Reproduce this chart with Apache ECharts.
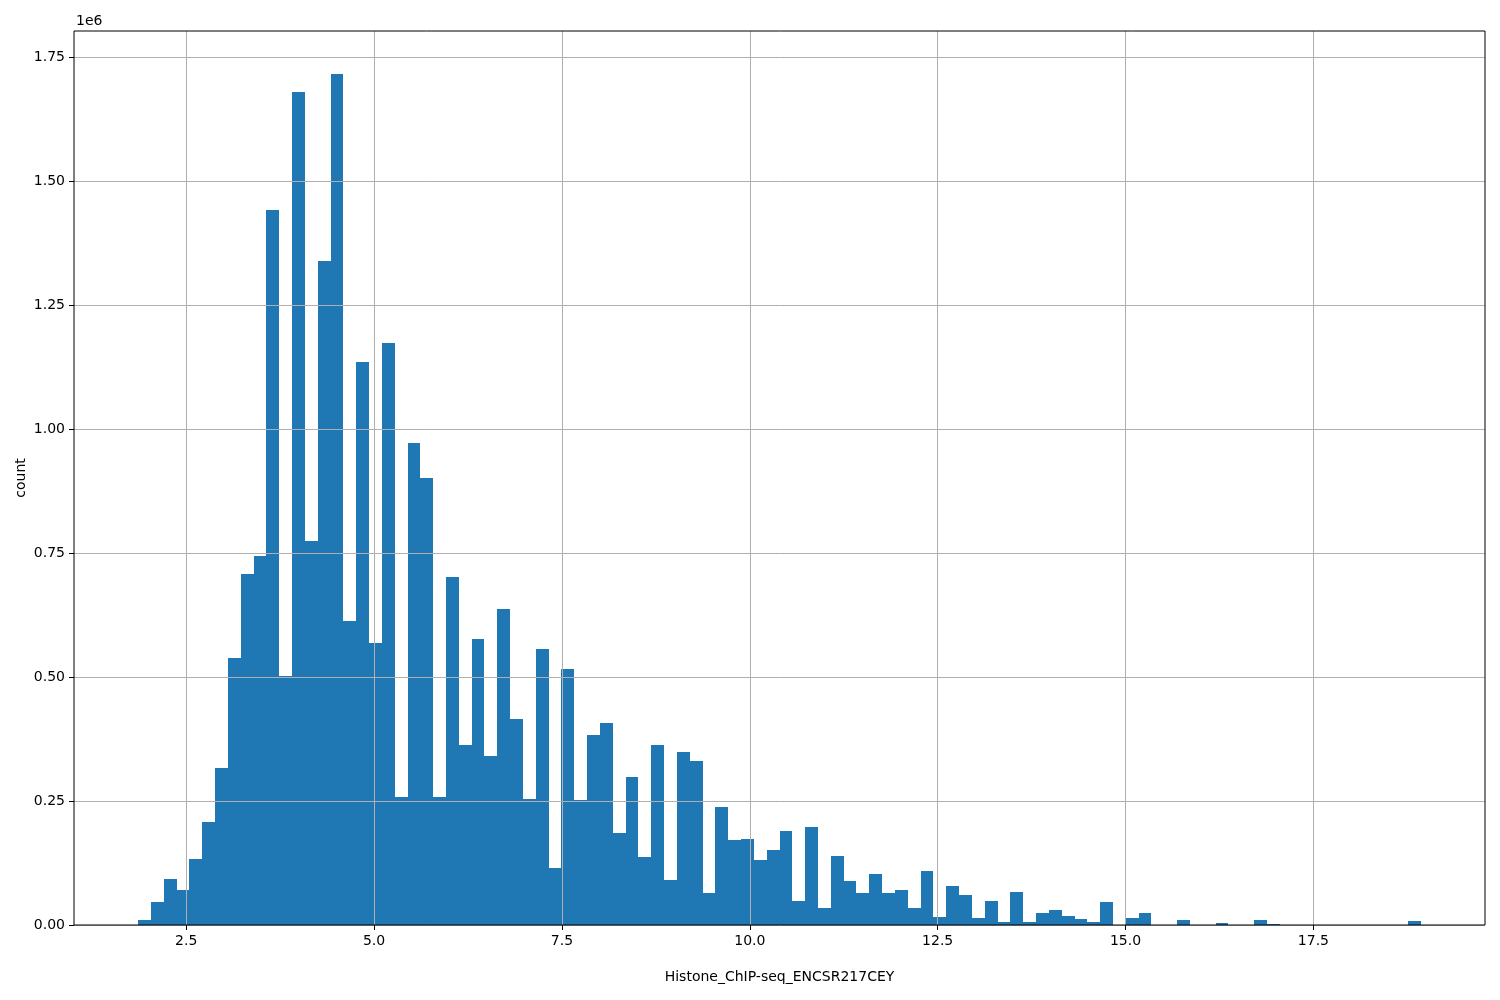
<!DOCTYPE html>
<html>
<head>
<meta charset="utf-8">
<script src="https://cdn.jsdelivr.net/npm/echarts@6/dist/echarts.min.js"></script>
<style>html,body{margin:0;padding:0;background:#fff;}#c{width:1500px;height:1000px;}</style>
</head>
<body>
<div id="c"></div>
<script>
// Histogram: 100 equal bins starting at binStart with width binWidth
const binStart = 1.86;
const binWidth = 0.1707;
const counts = [
  10000, 46000, 93000, 70000, 133000, 207000, 316000, 539000, 709000, 745000,
  1443000, 502000, 1681000, 774000, 1339000, 1718000, 613000, 1136000, 569000, 1175000,
  258000, 972000, 902000, 258000, 702000, 363000, 577000, 341000, 638000, 416000,
  254000, 557000, 115000, 516000, 253000, 383000, 407000, 185000, 298000, 138000,
  363000, 91000, 349000, 331000, 65000, 238000, 171000, 173000, 131000, 151000,
  190000, 48000, 198000, 35000, 139000, 89000, 65000, 103000, 65000, 71000,
  35000, 109000, 16000, 79000, 61000, 14000, 48000, 6000, 66000, 6000,
  24000, 30000, 18000, 12000, 6000, 46000, 0, 14000, 24000, 0,
  0, 10000, 0, 0, 4000, 0, 0, 10000, 2000, 0,
  0, 0, 0, 0, 0, 0, 0, 0, 0, 8000
];
const xTicks = [2.5, 5.0, 7.5, 10.0, 12.5, 15.0, 17.5];
const yTicks = [0, 250000, 500000, 750000, 1000000, 1250000, 1500000, 1750000];
const xLabel = 'Histone_ChIP-seq_ENCSR217CEY';
const yLabel = 'count';
const yScaleText = '1e6';

const binData = counts.map((c, i) => [binStart + i * binWidth, binStart + (i + 1) * binWidth, c]);
const xLo = binStart, xHi = binStart + counts.length * binWidth;
const xPad = (xHi - xLo) * 0.05;
const yMax = Math.max(...counts) * 1.05;

const FONT = 'DejaVu Sans';
const chart = echarts.init(document.getElementById('c'), null, {renderer: 'canvas'});
chart.setOption({
  animation: false,
  backgroundColor: '#ffffff',
  textStyle: {fontFamily: FONT},
  grid: {left: 74, top: 31, right: 15, bottom: 75, show: true, borderColor: '#000', borderWidth: 1, backgroundColor: 'transparent', z: 5},
  xAxis: {
    type: 'value', min: xLo - xPad, max: xHi + xPad, z: 4,
    axisLine: {show: false},
    axisTick: {show: true, inside: false, length: 5, lineStyle: {color: '#000', width: 1}, customValues: xTicks},
    axisLabel: {customValues: xTicks, margin: 9, color: '#000', fontSize: 14, fontFamily: FONT, formatter: v => v.toFixed(1)},
    splitLine: {show: true, lineStyle: {color: '#b0b0b0', width: 1}},
    name: xLabel, nameLocation: 'middle', nameGap: 45, nameMoveOverlap: false,
    nameTextStyle: {color: '#000', fontSize: 14, fontFamily: FONT}
  },
  yAxis: {
    type: 'value', min: 0, max: yMax, z: 4,
    axisLine: {show: false},
    axisTick: {show: true, inside: false, length: 5, lineStyle: {color: '#000', width: 1}, customValues: yTicks},
    axisLabel: {customValues: yTicks, margin: 9, color: '#000', fontSize: 14, fontFamily: FONT, formatter: v => (v / 1e6).toFixed(2)},
    splitLine: {show: true, lineStyle: {color: '#b0b0b0', width: 1}},
    name: yLabel, nameLocation: 'middle', nameGap: 53, nameMoveOverlap: false,
    nameTextStyle: {color: '#000', fontSize: 14, fontFamily: FONT, verticalAlign: 'middle'}
  },
  graphic: [{
    type: 'text', left: 76, top: 14,
    style: {text: yScaleText, fill: '#000', font: '14px "DejaVu Sans"'}
  }],
  series: [{
    type: 'custom',
    z: 2,
    data: binData,
    encode: {x: [0, 1], y: 2},
    renderItem: function (params, api) {
      const p0 = api.coord([api.value(0), 0]);
      const p1 = api.coord([api.value(1), api.value(2)]);
      const x0 = Math.round(p0[0]), x1 = Math.round(p1[0]);
      const yb = Math.round(p0[1]), yt = Math.round(p1[1]);
      return {
        type: 'rect',
        shape: {x: x0, y: yt, width: x1 - x0, height: yb - yt},
        style: {fill: '#1f77b4'}
      };
    }
  }]
});
</script>
</body>
</html>
